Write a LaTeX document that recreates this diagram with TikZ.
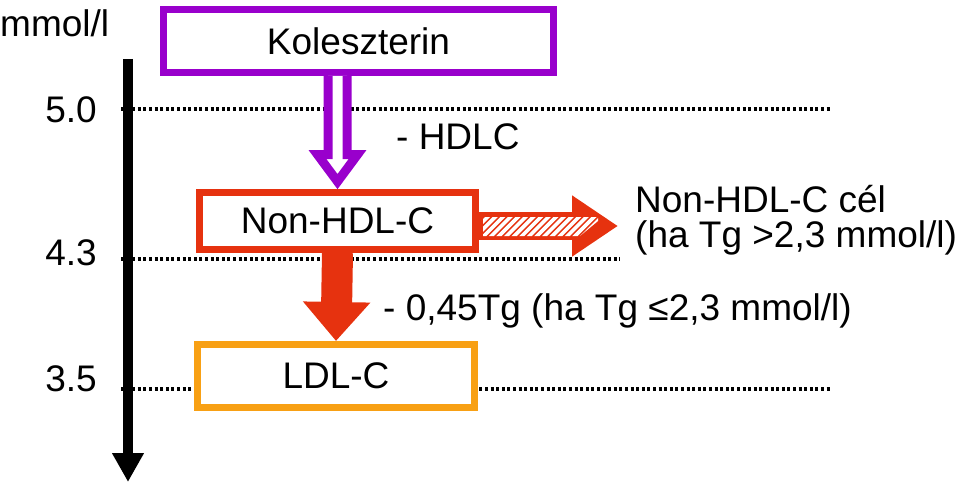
\documentclass[tikz,border=0pt]{standalone}
\usepackage{fontspec}
\setmainfont{Liberation Sans}
\usetikzlibrary{arrows.meta}
\definecolor{kolpurple}{RGB}{153,0,204}
\definecolor{nonred}{RGB}{230,50,15}
\definecolor{ldlorange}{RGB}{248,160,20}

\begin{document}
\begin{tikzpicture}[x=1pt,y=1pt,line join=miter,
  every node/.style={font=\fontsize{37}{35}\selectfont,inner sep=0pt},
  stepbox/.style={draw=#1,fill=white,line width=7pt,rectangle},
  dotline/.style={line width=3.3pt,dash pattern=on 3pt off 2.6pt},
  hollowarrow/.style={draw=kolpurple,fill=white,line width=9pt},
  blockarrow/.style={draw=nonred,line width=#1}]
  \useasboundingbox (0,0) rectangle (959,483);

  \coordinate (atop) at (128,424);
  \coordinate (abot) at (128,1);
  \coordinate (d50a) at (121,374);
  \coordinate (d50b) at (830,374);
  \coordinate (d43a) at (121,224);
  \coordinate (d43b) at (620,224);
  \coordinate (d35a) at (121,94);
  \coordinate (d35b) at (830,94);
  \coordinate (goal) at (618,257);

  % scale
  \node (unit) [anchor=base west] at (0,446) {mmol/l};
  \node (t50) [anchor=east] at (97,373) {5.0};
  \node (t43) [anchor=east] at (97,230) {4.3};
  \node (t35) [anchor=east] at (97,104) {3.5};

  \draw[dotline] (d50a) -- (d50b);
  \draw[dotline] (d43a) -- (d43b);
  \draw[dotline] (d35a) -- (d35b);
  \draw[line width=9.5pt,-{Triangle[width=30pt,length=29pt]}] (atop) -- (abot);

  % boxes
  \node (kol) [stepbox=kolpurple,minimum width=390pt,minimum height=63pt] at (358.5,442) {Koleszterin};
  \node (nonhdl) [stepbox=nonred,minimum width=276pt,minimum height=57pt] at (337.5,262) {Non-HDL-C};
  \node (ldl) [stepbox=ldlorange,minimum width=277pt,minimum height=63pt] at (336,107) {LDL-C};

  % arrows
  \coordinate (ptop) at (nonhdl.north |- kol.south);
  \coordinate (ptip) at ([yshift=7.4pt]nonhdl.north);
  \draw[hollowarrow] ([xshift=-9.5pt]ptop) -- ([xshift=-9.5pt,yshift=27pt]ptip)
    -- ([xshift=-20pt,yshift=27pt]ptip) -- (ptip) -- ([xshift=20pt,yshift=27pt]ptip)
    -- ([xshift=9.5pt,yshift=27pt]ptip) -- ([xshift=9.5pt]ptop);
  \draw[blockarrow=31pt,-{Triangle[width=65pt,length=39pt]},nonred] (nonhdl.south) -- (ldl.north);
  \draw[blockarrow=28pt,-{Triangle[width=58pt,length=46pt]},nonred] ([yshift=-5pt]nonhdl.east) -- (goal);
  \begin{scope}[shift={(nonhdl.east)}]
    \clip (4,-15) -- (101,-15) -- (119,0) -- (119,4) -- (4,4) -- cycle;
    \foreach \i in {0,...,17}
      \draw[white,line width=3.6pt] (\i*7.6-20,-17) -- ++(23,23);
  \end{scope}

  % labels
  \node (hdl) [anchor=base west] at (396,333) {- HDLC};
  \node (goaltext) [anchor=base west,align=left] at (635,236) {Non-HDL-C cél\\(ha Tg >2,3 mmol/l)};
  \node (tgcorr) [anchor=base west] at (383,163) {- 0,45Tg (ha Tg ≤2,3 mmol/l)};
\end{tikzpicture}
\end{document}
